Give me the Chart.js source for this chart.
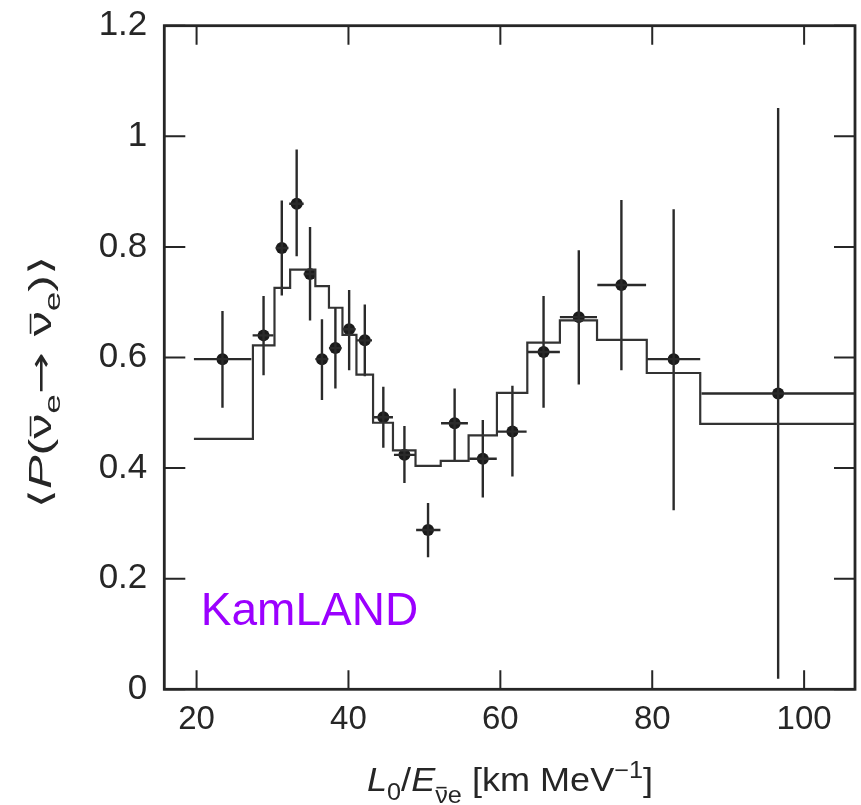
<!DOCTYPE html>
<html>
<head>
    <title>KamLAND survival probability vs L/E</title>
    <script src="https://cdn.jsdelivr.net/npm/chart.js"></script>
    <style>
        body { margin: 0; background: #fff; }
        canvas { display: block; }
    </style>
</head>
<body>
    <canvas id="kamland" width="861" height="805"></canvas>
    <script>
        // data points (L0/E in km/MeV, ratio)
        const pointX = [23.41, 28.82, 31.22, 33.18, 34.94, 36.51, 38.28, 40.09, 42.15, 44.59,
                        47.37, 50.48, 53.98, 57.69, 61.59, 65.69, 70.33, 75.94, 82.82, 96.58];
        const pointY = [0.597, 0.640, 0.798, 0.878, 0.751, 0.597, 0.617, 0.651, 0.631, 0.492,
                        0.424, 0.288, 0.481, 0.417, 0.466, 0.610, 0.673, 0.731, 0.597, 0.535];
        const errLow = [0.509, 0.568, 0.712, 0.783, 0.667, 0.523, 0.544, 0.577, 0.566, 0.437,
                        0.373, 0.239, 0.414, 0.347, 0.385, 0.509, 0.551, 0.577, 0.324, 0.019];
        const errHigh = [0.684, 0.711, 0.884, 0.976, 0.836, 0.669, 0.690, 0.722, 0.696, 0.547,
                         0.476, 0.337, 0.544, 0.487, 0.549, 0.711, 0.794, 0.885, 0.868, 1.051];
        const binLow = [19.65, 27.38, 30.40, 32.20, 34.10, 35.64, 37.43, 39.21, 41.05, 43.24,
                        45.99, 48.91, 52.19, 55.91, 59.58, 63.55, 67.84, 72.77, 79.28, 86.48];
        const binHigh = [27.21, 30.13, 32.10, 34.10, 35.55, 37.35, 39.10, 40.95, 43.10, 45.86,
                         48.83, 52.11, 55.73, 59.53, 63.46, 67.84, 72.73, 79.19, 86.32, 106.7];

        // expectation histogram
        const histEdges = [19.65, 27.42, 30.26, 32.32, 35.64, 37.43, 39.21, 41.05, 43.24, 45.86,
                           48.83, 52.15, 55.82, 59.55, 63.55, 67.84, 72.73, 79.28, 86.32, 106.7];
        const histValues = [0.453, 0.622, 0.726, 0.759, 0.729, 0.690, 0.641, 0.569, 0.482, 0.432,
                            0.404, 0.413, 0.459, 0.536, 0.627, 0.667, 0.632, 0.572, 0.480];

        const xTickValues = [20, 40, 60, 80, 100];
        const yTickValues = [0, 0.2, 0.4, 0.6, 0.8, 1, 1.2];

        const FONT = "'Liberation Sans', Arial, 'DejaVu Sans', sans-serif";
        const INK = '#262626';

        const histData = histEdges.map((e, i) => ({ x: e, y: histValues[Math.min(i, histValues.length - 1)] }));
        const vBars = [];
        const hBars = [];
        pointX.forEach((px, i) => {
            vBars.push({ x: px, y: errLow[i] }, { x: px, y: errHigh[i] }, { x: px, y: null });
            hBars.push({ x: binLow[i], y: pointY[i] }, { x: binHigh[i], y: pointY[i] }, { x: binHigh[i], y: null });
        });
        const points = pointX.map((px, i) => ({ x: px, y: pointY[i] }));

        // draws a run of text pieces (sub/superscripts, italics) stretched to a given width
        function drawRich(ctx, parts, size, width) {
            const fontOf = p => (p.italic ? 'italic ' : '') + (size * (p.scale || 1)) + 'px ' + (p.family || FONT);
            let total = 0;
            parts.forEach(p => {
                ctx.font = fontOf(p);
                p.w = ctx.measureText(p.t).width;
                total += p.w;
            });
            ctx.scale(width / total, 1);
            let cx = -total / 2;
            parts.forEach(p => {
                const s = size * (p.scale || 1);
                ctx.font = fontOf(p);
                ctx.fillText(p.t, cx, (p.dy || 0) * size);
                if (p.bar) {
                    ctx.beginPath();
                    ctx.lineWidth = 1.6;
                    ctx.moveTo(cx + p.w * 0.1, (p.dy || 0) * size - s * 0.66);
                    ctx.lineTo(cx + p.w * 0.9, (p.dy || 0) * size - s * 0.66);
                    ctx.stroke();
                }
                cx += p.w;
            });
        }

        const framePlugin = {
            id: 'frame',
            afterDatasetsDraw(chart) {
                const { ctx, chartArea: a, scales: { x, y } } = chart;
                ctx.save();
                ctx.strokeStyle = INK;
                ctx.fillStyle = INK;
                ctx.lineWidth = 2;
                ctx.beginPath();
                xTickValues.forEach(v => {
                    const px = x.getPixelForValue(v);
                    ctx.moveTo(px, a.bottom); ctx.lineTo(px, a.bottom - 19);
                    ctx.moveTo(px, a.top); ctx.lineTo(px, a.top + 19);
                });
                yTickValues.forEach(v => {
                    const py = y.getPixelForValue(v);
                    ctx.moveTo(a.left, py); ctx.lineTo(a.left + 21, py);
                    ctx.moveTo(a.right, py); ctx.lineTo(a.right - 21, py);
                });
                ctx.stroke();
                ctx.lineWidth = 2.8;
                ctx.strokeRect(a.left, a.top, a.right - a.left, a.bottom - a.top);

                // experiment label
                ctx.fillStyle = '#9b00ff';
                ctx.font = '46px ' + FONT;
                ctx.textBaseline = 'alphabetic';
                ctx.fillText('KamLAND', x.getPixelForValue(20.56), y.getPixelForValue(0.116));

                ctx.fillStyle = INK;
                ctx.strokeStyle = INK;
                // x axis title
                ctx.save();
                ctx.translate(510, 791);
                drawRich(ctx, [
                    { t: 'L', italic: true },
                    { t: '0', scale: 0.7, dy: 0.28 },
                    { t: '/' },
                    { t: 'E', italic: true },
                    { t: '\u03BD', scale: 0.7, dy: 0.36, bar: true },
                    { t: 'e', scale: 0.7, dy: 0.36 },
                    { t: ' [km MeV' },
                    { t: '\u22121', scale: 0.7, dy: -0.4 },
                    { t: ']' }
                ], 33, 286);
                ctx.restore();

                // y axis title
                ctx.save();
                ctx.translate(51, 382);
                ctx.rotate(-Math.PI / 2);
                drawRich(ctx, [
                    { t: '\u27E8', family: "'DejaVu Sans', sans-serif" },
                    { t: 'P', italic: true },
                    { t: '(' },
                    { t: '\u03BD', bar: true },
                    { t: 'e', scale: 0.7, dy: 0.3 },
                    { t: '\u2192 ', family: "'DejaVu Sans', sans-serif" },
                    { t: '\u03BD', bar: true },
                    { t: 'e', scale: 0.7, dy: 0.3 },
                    { t: ')' },
                    { t: '\u27E9', family: "'DejaVu Sans', sans-serif" }
                ], 31, 253);
                ctx.restore();
                ctx.restore();
            }
        };

        new Chart(document.getElementById('kamland'), {
            type: 'scatter',
            data: {
                datasets: [
                    {
                        label: 'expectation',
                        data: histData,
                        showLine: true,
                        stepped: 'before',
                        borderColor: '#333',
                        borderWidth: 2.2,
                        pointRadius: 0,
                        spanGaps: false
                    },
                    {
                        label: 'bin width',
                        data: hBars,
                        showLine: true,
                        borderColor: '#2a2a2a',
                        borderWidth: 2.4,
                        pointRadius: 0,
                        spanGaps: false
                    },
                    {
                        label: 'error',
                        data: vBars,
                        showLine: true,
                        borderColor: '#2a2a2a',
                        borderWidth: 2.4,
                        pointRadius: 0,
                        spanGaps: false
                    },
                    {
                        label: 'data',
                        data: points,
                        pointRadius: 6,
                        pointBackgroundColor: '#1a1a1a',
                        pointBorderColor: '#1a1a1a',
                        pointBorderWidth: 0
                    }
                ]
            },
            options: {
                responsive: false,
                animation: false,
                layout: { padding: { top: 25.7, right: 2.7, left: 0, bottom: 0 } },
                plugins: {
                    legend: { display: false },
                    tooltip: { enabled: false }
                },
                scales: {
                    x: {
                        type: 'linear',
                        min: 15.75,
                        max: 106.7,
                        afterBuildTicks: s => { s.ticks = xTickValues.map(v => ({ value: v })); },
                        afterFit: s => { s.height = 115.7; s.paddingLeft = 0; s.paddingRight = 0; },
                        grid: { display: false, drawTicks: false },
                        border: { display: false },
                        ticks: { color: INK, font: { family: FONT, size: 33 }, padding: 11, maxRotation: 0 }
                    },
                    y: {
                        type: 'linear',
                        min: 0,
                        max: 1.2,
                        afterBuildTicks: s => { s.ticks = yTickValues.map(v => ({ value: v })); },
                        afterFit: s => { s.width = 164.3; s.paddingTop = 0; s.paddingBottom = 0; },
                        grid: { display: false, drawTicks: false },
                        border: { display: false },
                        ticks: {
                            color: INK,
                            font: { family: FONT, size: 35 },
                            padding: 17,
                            callback: v => String(+v.toFixed(1))
                        }
                    }
                }
            },
            plugins: [framePlugin]
        });
    </script>
</body>
</html>
